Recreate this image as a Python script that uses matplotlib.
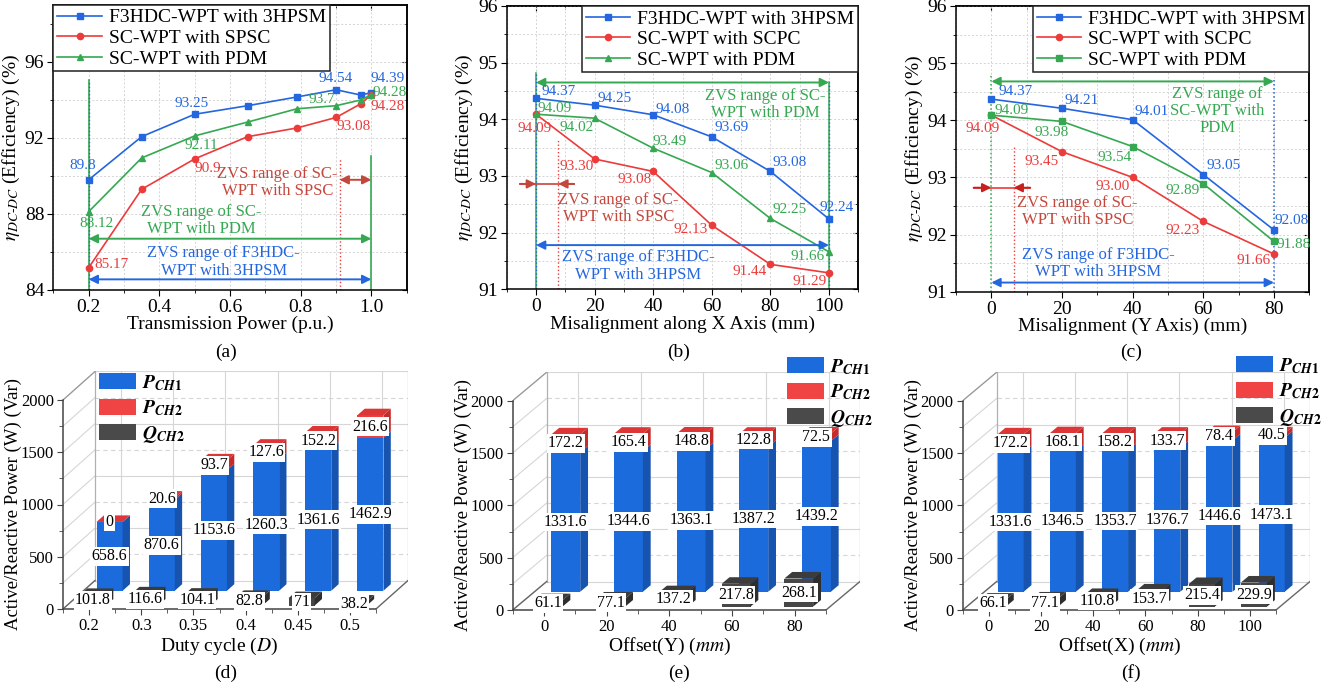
import numpy as np
import matplotlib
matplotlib.use('Agg')
import matplotlib.pyplot as plt
from matplotlib.patches import Polygon, Patch
from matplotlib.ticker import MultipleLocator, FixedLocator

plt.rcParams['font.family'] = ['Liberation Serif', 'DejaVu Serif']
plt.rcParams['mathtext.fontset'] = 'stix'
plt.rcParams['axes.linewidth'] = 1.1

W, H = 1332, 689
BLUE = '#2466df'
RED = '#ec3b3b'
GREEN = '#36a852'
BROWN = '#c4473c'

# (a) efficiency vs transmission power
power_pu = [0.2, 0.35, 0.5, 0.65, 0.79, 0.9, 0.97, 1.0]
a_f3hdc = [89.8, 92.07, 93.25, 93.7, 94.16, 94.54, 94.26, 94.39]
a_spsc = [85.17, 89.3, 90.9, 92.07, 92.53, 93.08, 93.8, 94.28]
a_pdm = [88.12, 90.95, 92.11, 92.84, 93.54, 93.7, 94.0, 94.28]

# (b) efficiency vs misalignment along X
mis_x = [0, 20, 40, 60, 80, 100]
b_f3hdc = [94.37, 94.25, 94.08, 93.69, 93.08, 92.24]
b_scpc = [94.09, 93.30, 93.08, 92.13, 91.44, 91.29]
b_pdm = [94.09, 94.02, 93.49, 93.06, 92.25, 91.66]

# (c) efficiency vs misalignment along Y
mis_y = [0, 20, 40, 60, 80]
c_f3hdc = [94.37, 94.21, 94.01, 93.05, 92.08]
c_scpc = [94.09, 93.45, 93.00, 92.23, 91.66]
c_pdm = [94.09, 93.98, 93.54, 92.89, 91.88]

# (d) power vs duty cycle
duty = ['0.2', '0.3', '0.35', '0.4', '0.45', '0.5']
d_pch1 = [658.6, 870.6, 1153.6, 1260.3, 1361.6, 1462.9]
d_pch2 = [0, 20.6, 93.7, 127.6, 152.2, 216.6]
d_qch2 = [101.8, 116.6, 104.1, 82.8, 71, 38.2]

# (e) power vs offset Y
off_y = ['0', '20', '40', '60', '80']
e_pch1 = [1331.6, 1344.6, 1363.1, 1387.2, 1439.2]
e_pch2 = [172.2, 165.4, 148.8, 122.8, 72.5]
e_qch2 = [61.1, 77.1, 137.2, 217.8, 268.1]

# (f) power vs offset X
off_x = ['0', '20', '40', '60', '80', '100']
f_pch1 = [1331.6, 1346.5, 1353.7, 1376.7, 1446.6, 1473.1]
f_pch2 = [172.2, 168.1, 158.2, 133.7, 78.4, 40.5]
f_qch2 = [66.1, 77.1, 110.8, 153.7, 215.4, 229.9]

fig = plt.figure(figsize=(W / 100, H / 100), dpi=100)


def px_axes(left, top, right, bottom):
    return fig.add_axes([left / W, 1 - bottom / H, (right - left) / W, (bottom - top) / H])


def style_lines(ax, xlim, ylim, xmaj, ymaj, xlabel):
    ax.set_xlim(*xlim)
    ax.set_ylim(*ylim)
    ax.xaxis.set_major_locator(MultipleLocator(xmaj))
    ax.xaxis.set_minor_locator(MultipleLocator(xmaj / 2))
    ax.yaxis.set_major_locator(MultipleLocator(ymaj))
    ax.yaxis.set_minor_locator(MultipleLocator(ymaj / 2))
    ax.grid(which='both', color='#d4d4d4', ls=(0, (2, 2)), lw=0.7)
    ax.set_axisbelow(True)
    ax.tick_params(which='both', direction='out', labelsize=14, pad=2)
    ax.tick_params(which='major', length=4.5)
    ax.tick_params(which='minor', length=2.5)
    top = ax.secondary_xaxis('top')
    top.xaxis.set_major_locator(MultipleLocator(xmaj))
    top.xaxis.set_minor_locator(MultipleLocator(xmaj / 2))
    top.tick_params(which='both', direction='in', labeltop=False)
    right = ax.secondary_yaxis('right')
    right.yaxis.set_major_locator(MultipleLocator(ymaj))
    right.yaxis.set_minor_locator(MultipleLocator(ymaj / 2))
    right.tick_params(which='both', direction='in', labelright=False)
    ax.set_xlabel(xlabel, fontsize=14, labelpad=0)
    ax.set_ylabel(r'$\eta_{DC\text{-}DC}$ (Efficiency) (%)', fontsize=14, labelpad=2)


def harrow(ax, x0, x1, y, color, style='<|-|>'):
    ax.annotate('', xy=(x1, y), xytext=(x0, y),
                arrowprops=dict(arrowstyle=style, color=color, lw=1.4,
                                mutation_scale=13, shrinkA=0, shrinkB=0))


def put_labels(ax, x, series, colors, offsets, fmt):
    for s, ys in enumerate(series):
        for i, dx, dy in offsets[s]:
            ax.text(x[i] + dx, ys[i] + dy, fmt(ys[i]), color=colors[s],
                    fontsize=11, ha='center', va='center')


def legend_lines(ax, loc):
    lg = ax.legend(loc=loc, fontsize=14, fancybox=False, edgecolor='#222', framealpha=1,
                   borderaxespad=0, handlelength=2.3, handletextpad=0.35,
                   borderpad=0.2, labelspacing=0.15)
    lg.get_frame().set_linewidth(1.1)


# ---------------- (a) ----------------
ax = px_axes(53.3, 5, 406.7, 290)
style_lines(ax, (0.1, 1.1), (84, 99), 0.2, 4, 'Transmission Power (p.u.)')
ax.plot(power_pu, a_f3hdc, color=BLUE, marker='s', ms=4.5, lw=1.2, label='F3HDC-WPT with 3HPSM')
ax.plot(power_pu, a_spsc, color=RED, marker='o', ms=4.5, lw=1.2, label='SC-WPT with SPSC')
ax.plot(power_pu, a_pdm, color=GREEN, marker='^', ms=5, lw=1.2, label='SC-WPT with PDM')
legend_lines(ax, 'upper left')
ax.plot([0.2, 0.2], [84, 95.07], color=GREEN, lw=1.2, zorder=1)
ax.plot([0.2, 0.2], [84, 95.07], color=BLUE, lw=1, ls=':', zorder=1)
ax.plot([1.0, 1.0], [84, 91.04], color=GREEN, lw=1.2, zorder=1)
ax.plot([0.91, 0.91], [84, 90.95], color=RED, lw=1, ls=':', zorder=1)
harrow(ax, 0.91, 1.0, 89.8, BROWN)
harrow(ax, 0.2, 1.0, 86.7, GREEN)
harrow(ax, 0.2, 1.0, 84.56, BLUE)
ax.text(0.735, 89.65, 'ZVS range of SC-\nWPT with SPSC', color=BROWN, fontsize=12, ha='center', va='center', linespacing=1.1)
ax.text(0.518, 87.67, 'ZVS range of SC-\nWPT with PDM', color=GREEN, fontsize=12, ha='center', va='center', linespacing=1.1)
ax.text(0.582, 85.47, 'ZVS range of F3HDC-\nWPT with 3HPSM', color=BLUE, fontsize=12, ha='center', va='center', linespacing=1.1)
put_labels(ax, power_pu, [a_f3hdc, a_spsc, a_pdm], [BLUE, RED, GREEN],
           [[(0, -0.017, 0.76), (2, -0.008, 0.57), (5, 0, 0.58), (7, 0.045, 0.73)],
            [(0, 0.065, 0.16), (2, 0.038, -0.48), (5, 0.051, -0.5), (7, 0.047, -0.61)],
            [(0, 0.023, -0.63), (2, 0.018, -0.51), (5, -0.039, 0.32), (7, 0.052, 0.12)]],
           lambda v: f'{v:g}')

# ---------------- (b) ----------------
ax = px_axes(506.7, 6, 858.3, 289.3)
style_lines(ax, (-10, 110), (91, 96), 20, 1, 'Misalignment along X Axis (mm)')
ax.plot(mis_x, b_f3hdc, color=BLUE, marker='s', ms=4.5, lw=1.2, label='F3HDC-WPT with 3HPSM')
ax.plot(mis_x, b_scpc, color=RED, marker='o', ms=4.5, lw=1.2, label='SC-WPT with SCPC')
ax.plot(mis_x, b_pdm, color=GREEN, marker='^', ms=5, lw=1.2, label='SC-WPT with PDM')
legend_lines(ax, 'upper right')
ax.plot([0, 0], [91, 94.82], color=GREEN, lw=1.1, zorder=1)
ax.plot([0, 0], [91, 94.82], color=BLUE, lw=1, ls=':', zorder=1)
ax.plot([100, 100], [91, 94.65], color=GREEN, lw=1.1, zorder=1)
ax.plot([100, 100], [91, 94.65], color=BLUE, lw=1, ls=':', zorder=1)
ax.plot([7.6, 7.6], [91, 93.65], color=RED, lw=1, ls=':', zorder=1)
harrow(ax, 0, 100, 94.65, GREEN)
harrow(ax, 0, 100, 91.78, BLUE)
ax.plot([-5.5, 13], [92.86, 92.86], color=BROWN, lw=1.2)
harrow(ax, -5.5, 0, 92.86, BROWN, '-|>')
harrow(ax, 13, 7.6, 92.86, BROWN, '-|>')
ax.text(78.1, 94.26, 'ZVS range of SC-\nWPT with PDM', color=GREEN, fontsize=12, ha='center', va='center', linespacing=1.1)
ax.text(28.2, 92.43, 'ZVS range of SC-\nWPT with SPSC', color=BROWN, fontsize=12, ha='center', va='center', linespacing=1.1)
ax.text(35, 91.41, 'ZVS range of F3HDC-\nWPT with 3HPSM', color=BLUE, fontsize=12, ha='center', va='center', linespacing=1.1)
put_labels(ax, mis_x, [b_f3hdc, b_scpc, b_pdm], [BLUE, RED, GREEN],
           [[(0, 7.8, 0.12), (1, 7, 0.11), (2, 6.8, 0.10), (3, 6.7, 0.16), (4, 6.6, 0.16), (5, 2.5, 0.21)],
            [(0, -0.3, -0.25), (1, -6.1, -0.14), (2, -6.5, -0.15), (3, -7.3, -0.07), (4, -7, -0.13), (5, -6.6, -0.15)],
            [(0, 6.5, 0.10), (1, -6, -0.16), (2, 5.7, 0.11), (3, 6.7, 0.12), (4, 6.6, 0.15), (5, -7.2, -0.08)]],
           lambda v: f'{v:.2f}')

# ---------------- (c) ----------------
ax = px_axes(956, 6, 1309.3, 291.7)
style_lines(ax, (-10, 90), (91, 96), 20, 1, 'Misalignment (Y Axis) (mm)')
ax.plot(mis_y, c_f3hdc, color=BLUE, marker='s', ms=4.5, lw=1.2, label='F3HDC-WPT with 3HPSM')
ax.plot(mis_y, c_scpc, color=RED, marker='o', ms=4.5, lw=1.2, label='SC-WPT with SCPC')
ax.plot(mis_y, c_pdm, color=GREEN, marker='s', ms=4.5, lw=1.2, label='SC-WPT with PDM')
legend_lines(ax, 'upper right')
ax.plot([0, 0], [91, 94.79], color=GREEN, lw=1.1, ls=':', zorder=1)
ax.plot([80, 80], [91, 94.7], color=BLUE, lw=1.1, ls=':', zorder=1)
ax.plot([6.3, 6.3], [91, 93.54], color=RED, lw=1, ls=':', zorder=1)
harrow(ax, 0, 80, 94.68, GREEN)
harrow(ax, 0, 80, 91.16, BLUE)
ax.plot([-5, 11], [92.82, 92.82], color=RED, lw=1.2)
harrow(ax, -5, 0, 92.82, '#c8201e', '-|>')
harrow(ax, 11, 6.3, 92.82, '#c8201e', '-|>')
ax.text(64, 94.16, 'ZVS range of\nSC-WPT with\nPDM', color=GREEN, fontsize=12, ha='center', va='center', linespacing=1.1)
ax.text(24.4, 92.4, 'ZVS range of SC-\nWPT with SPSC', color=BROWN, fontsize=12, ha='center', va='center', linespacing=1.1)
ax.text(30.3, 91.5, 'ZVS range of F3HDC-\nWPT with 3HPSM', color=BLUE, fontsize=12, ha='center', va='center', linespacing=1.1)
put_labels(ax, mis_y, [c_f3hdc, c_scpc, c_pdm], [BLUE, RED, GREEN],
           [[(0, 7, 0.13), (1, 5.6, 0.14), (2, 5.4, 0.14), (3, 5.7, 0.15), (4, 5, 0.17)],
            [(0, -2.4, -0.24), (1, -5.7, -0.17), (2, -5.7, -0.16), (3, -5.8, -0.16), (4, -5.8, -0.12)],
            [(0, 5.7, 0.08), (1, -3, -0.19), (2, -5, -0.19), (3, -5.8, -0.12), (4, 5.5, -0.06)]],
           lambda v: f'{v:.2f}')

# ---------------- pseudo-3D bar panels ----------------
BF, BS = '#1b6bdc', '#1654b0'
RF, RS, RT = '#ee3d3d', '#c42c2c', '#dc3636'
KF, KS, KT = '#474747', '#2e2e2e', '#3c3c3c'


def bar_panel(L, R, y0, y2000, DX, DY, cats, p1, p2, q, xlabel, width, leg_xy, ylab_x):
    n = len(cats)
    ax = px_axes(L, y2000 - DY, R + DX, y0)
    pxcat = (R - L) / n
    pxval = (y0 - y2000) / 2000
    ddx, ddy = DX / pxcat, DY / pxval
    ax.set_xlim(-0.5, n - 0.5 + ddx)
    ax.set_ylim(0, 2000 + ddy)
    for s in ('top', 'right'):
        ax.spines[s].set_visible(False)
    for s in ('left', 'bottom'):
        ax.spines[s].set_color('#444')
    ax.spines['left'].set_bounds(0, 2000)
    ax.spines['bottom'].set_bounds(-0.5, n - 0.5)
    ax.set_xticks(range(n))
    ax.set_xticklabels(cats)
    ax.xaxis.set_minor_locator(FixedLocator(np.arange(-0.5, n, 1.0)))
    ax.yaxis.set_major_locator(FixedLocator([0, 500, 1000, 1500, 2000]))
    ax.yaxis.set_minor_locator(FixedLocator([250, 750, 1250, 1750]))
    ax.tick_params(which='both', direction='out', labelsize=12, color='#444', pad=2.5)
    ax.tick_params(which='major', length=4)
    ax.tick_params(which='minor', length=3)

    xl, xr = -0.5, n - 0.5
    for v in range(0, 2001, 250):
        major = v % 500 == 0
        ax.plot([xl, xl + ddx], [v, v + ddy], color='#d6d6d6', lw=0.8, zorder=0)
        ax.plot([xl + ddx, xr + ddx], [v + ddy, v + ddy], color='#d6d6d6', lw=0.8,
                ls='-' if major else (0, (4, 3)), zorder=0)
    for i in range(n):
        ax.plot([i + ddx, i + ddx], [ddy, 2000 + ddy], color='#d6d6d6', lw=0.8, zorder=0)
    ax.plot([xl + ddx, xl + ddx], [ddy, 2000 + ddy], color='#b0b0b0', lw=0.9, zorder=0)
    ax.plot([xr + ddx, xr + ddx], [ddy, 2000 + ddy], color='#b0b0b0', lw=0.9, zorder=0)
    ax.plot([xl, xl + ddx], [2000, 2000 + ddy], color='#999999', lw=0.9, zorder=0)
    ax.plot([xr, xr + ddx], [0, ddy], color='#666666', lw=1.0, zorder=0)
    ax.plot([xl, xl + ddx], [0, ddy], color='#666666', lw=1.0, zorder=0)

    hw = width / 2
    t = 0.23

    def block(xc, d, ybase, h, fc, sc, tc, z):
        x0 = xc - hw + d * ddx
        x1 = x0 + width
        yb = ybase + d * ddy
        tx, ty = t * ddx, t * ddy
        ax.add_patch(Polygon([(x0, yb), (x1, yb), (x1, yb + h), (x0, yb + h)], fc=fc, ec='none', zorder=z))
        ax.add_patch(Polygon([(x1, yb), (x1 + tx, yb + ty), (x1 + tx, yb + h + ty), (x1, yb + h)],
                             fc=sc, ec='none', zorder=z))
        if tc is not None:
            ax.add_patch(Polygon([(x0, yb + h), (x1, yb + h), (x1 + tx, yb + h + ty), (x0 + tx, yb + h + ty)],
                                 fc=tc, ec='none', zorder=z))

    db, dq = 0.64, 0.12
    box = dict(boxstyle='square,pad=0.08', fc='white', ec='none')
    for i in range(n):
        block(i, db, 0, p1[i], BF, BS, None, 2)
        block(i, db, p1[i], p2[i], RF, RS, RT, 2)
        block(i, dq, 0, q[i], KF, KS, KT, 3)
        ax.text(i + db * ddx, db * ddy + p1[i] / 2, f'{p1[i]:g}', fontsize=11.5,
                ha='center', va='center', bbox=box, zorder=5)
        ax.text(i + db * ddx, db * ddy + p1[i] + p2[i] / 2, f'{p2[i]:g}', fontsize=11.5,
                ha='center', va='center', bbox=box, zorder=5)
        ax.text(i + dq * ddx, dq * ddy + q[i] / 2, f'{q[i]:g}', fontsize=11.5,
                ha='center', va='center', bbox=box, zorder=6)

    ax.set_xlabel(xlabel, fontsize=14)
    ax.xaxis.set_label_coords((L + R) / 2 / W, 1 - 636 / H, transform=fig.transFigure)
    ax.set_ylabel('Active/Reactive Power (W) (Var)', fontsize=13.5)
    ax.yaxis.set_label_coords(ylab_x / W, 1 - (y0 + y2000) / 2 / H, transform=fig.transFigure)

    handles = [Patch(fc=BF, ec='none', label=r'$\mathbfit{P}_{\mathbfit{CH}\mathbf{1}}$'),
               Patch(fc='#f04444', ec='none', label=r'$\mathbfit{P}_{\mathbfit{CH}\mathbf{2}}$'),
               Patch(fc='#4a4a4a', ec='none', label=r'$\mathbfit{Q}_{\mathbfit{CH}\mathbf{2}}$')]
    ax.legend(handles=handles, loc='upper left', bbox_to_anchor=(leg_xy[0] / W, 1 - leg_xy[1] / H),
              bbox_transform=fig.transFigure, frameon=False, fontsize=14, borderpad=0,
              borderaxespad=0, handlelength=1.9, handleheight=0.9, handletextpad=0.3,
              labelspacing=0.3)
    return ax


bar_panel(63, 376, 609, 400, 32, 28.5, duty, d_pch1, d_pch2, d_qch2, r'Duty cycle ($D$)', 0.5, (99, 373), 22)
bar_panel(512.7, 826, 610, 400.7, 34, 28.5, off_y, e_pch1, e_pch2, e_qch2, r'Offset(Y) ($mm$)', 0.46, (787, 357), 472)
bar_panel(962.7, 1276, 610, 400.7, 34, 28.5, off_x, f_pch1, f_pch2, f_qch2, r'Offset(X) ($mm$)', 0.5, (1236, 356), 922)

for lab, x, y in [('(a)', 226, 352), ('(b)', 679, 352), ('(c)', 1131, 352),
                  ('(d)', 226, 673), ('(e)', 679, 673), ('(f)', 1131, 673)]:
    fig.text(x / W, 1 - y / H, lab, ha='center', va='center', fontsize=14)

fig.savefig('out.png', dpi=100)
